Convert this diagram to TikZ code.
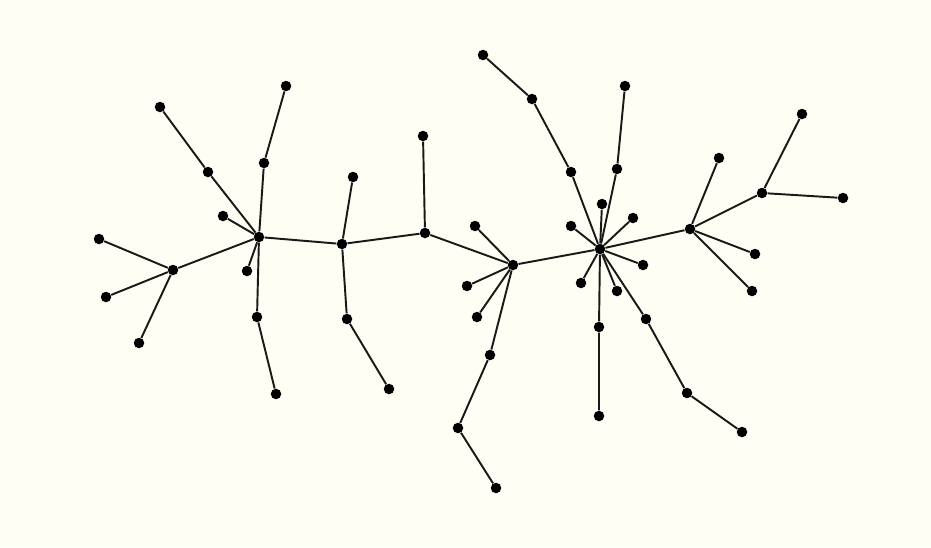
\documentclass[tikz,border=0pt]{standalone}
\usepackage{tikz}
\usetikzlibrary{backgrounds}
\definecolor{paper}{RGB}{254,254,244}

\begin{document}
\begin{tikzpicture}[
    x=0.2mm, y=-0.2mm,
    dot/.style={circle, fill=black, inner sep=0pt, minimum size=2.1mm},
    e/.style={line width=1.1pt, black!90},
]

%% ─── hubs ───────────────────────────────────────────────────
\node[dot] (hb) at (173,270) {};
\node[dot] (ha) at (259,237) {};
\node[dot] (hc) at (342,244) {};
\node[dot] (hd) at (425,233) {};
\node[dot] (he) at (513,265) {};
\node[dot] (hf) at (600,249) {};
\node[dot] (hg) at (690,229) {};
\node[dot] (hh) at (762,193) {};

%% ─── leaves / chains ────────────────────────────────────────
% left hub
\node[dot] (b1) at ( 99,239) {};
\node[dot] (b2) at (106,297) {};
\node[dot] (b3) at (139,343) {};
% hub a
\node[dot] (a1) at (208,172) {};
\node[dot] (a2) at (160,107) {};
\node[dot] (a3) at (223,216) {};
\node[dot] (a4) at (264,163) {};
\node[dot] (a5) at (286, 86) {};
\node[dot] (a6) at (247,271) {};
\node[dot] (a7) at (257,317) {};
\node[dot] (a8) at (276,394) {};
% hub c
\node[dot] (c1) at (353,177) {};
\node[dot] (c2) at (347,319) {};
\node[dot] (c3) at (389,389) {};
% hub d
\node[dot] (d1) at (423,136) {};
% hub e
\node[dot] (e1) at (475,226) {};
\node[dot] (e2) at (467,286) {};
\node[dot] (e3) at (477,317) {};
\node[dot] (e4) at (490,355) {};
\node[dot] (e5) at (458,428) {};
\node[dot] (e6) at (496,488) {};
% hub f
\node[dot] (f1) at (571,172) {};
\node[dot] (f2) at (532, 99) {};
\node[dot] (f3) at (483, 55) {};
\node[dot] (f4) at (617,169) {};
\node[dot] (f5) at (625, 86) {};
\node[dot] (f6) at (602,204) {};
\node[dot] (f7) at (571,226) {};
\node[dot] (f8) at (633,218) {};
\node[dot] (f9) at (643,265) {};
\node[dot] (f10) at (581,283) {};
\node[dot] (f11) at (617,291) {};
\node[dot] (f12) at (599,327) {};
\node[dot] (f13) at (599,416) {};
\node[dot] (f14) at (646,319) {};
\node[dot] (f15) at (687,393) {};
\node[dot] (f16) at (742,432) {};
% hub g / h
\node[dot] (g1) at (719,158) {};
\node[dot] (g2) at (755,254) {};
\node[dot] (g3) at (752,291) {};
\node[dot] (h1) at (802,114) {};
\node[dot] (h2) at (843,198) {};

%% ─── canvas + edges (behind the dots) ───────────────────────
\begin{scope}[on background layer]
\fill[paper] (0,0) rectangle (931,547);

% spine
\draw[e] (hb) -- (ha) -- (hc) -- (hd) -- (he) -- (hf) -- (hg) -- (hh);

\draw[e] (hb) -- (b1);
\draw[e] (hb) -- (b2);
\draw[e] (hb) -- (b3);

\draw[e] (ha) -- (a1) -- (a2);
\draw[e] (ha) -- (a3);
\draw[e] (ha) -- (a4) -- (a5);
\draw[e] (ha) -- (a6);
\draw[e] (ha) -- (a7) -- (a8);

\draw[e] (hc) -- (c1);
\draw[e] (hc) -- (c2) -- (c3);

\draw[e] (hd) -- (d1);

\draw[e] (he) -- (e1);
\draw[e] (he) -- (e2);
\draw[e] (he) -- (e3);
\draw[e] (he) -- (e4) -- (e5) -- (e6);

\draw[e] (hf) -- (f1) -- (f2) -- (f3);
\draw[e] (hf) -- (f4) -- (f5);
\draw[e] (hf) -- (f6);
\draw[e] (hf) -- (f7);
\draw[e] (hf) -- (f8);
\draw[e] (hf) -- (f9);
\draw[e] (hf) -- (f10);
\draw[e] (hf) -- (f11);
\draw[e] (hf) -- (f12) -- (f13);
\draw[e] (hf) -- (f14) -- (f15) -- (f16);

\draw[e] (hg) -- (g1);
\draw[e] (hg) -- (g2);
\draw[e] (hg) -- (g3);
\draw[e] (hh) -- (h1);
\draw[e] (hh) -- (h2);
\end{scope}

\useasboundingbox (0,0) rectangle (931,547);

\end{tikzpicture}
\end{document}
